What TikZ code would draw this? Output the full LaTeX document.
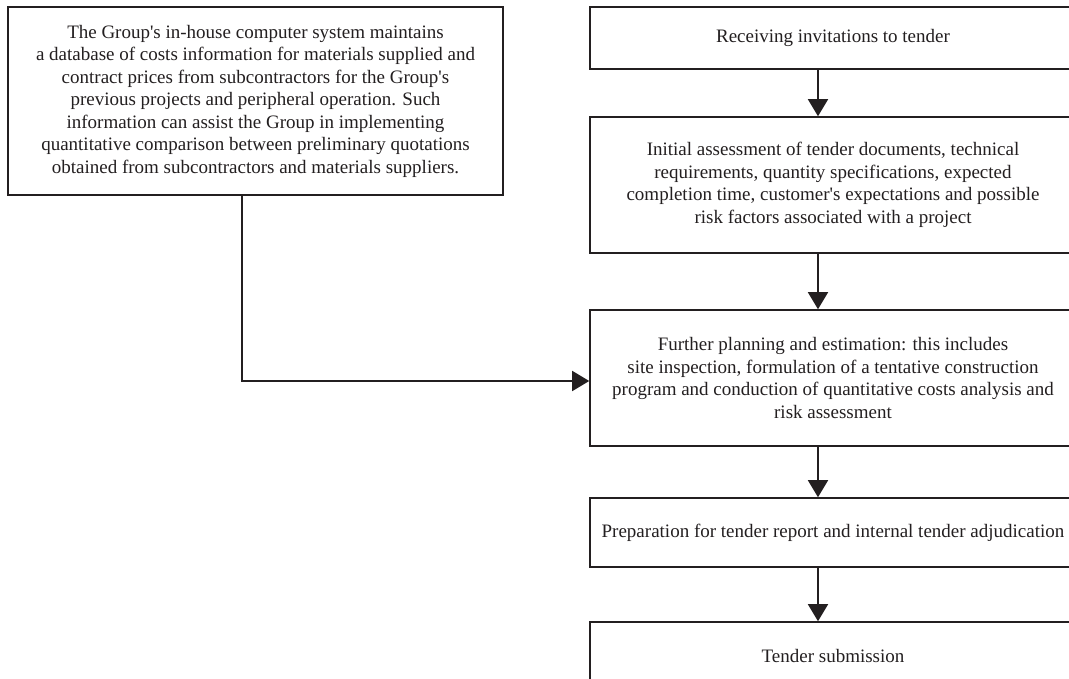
\documentclass[tikz,border=0pt]{standalone}
\usepackage{fontspec}
\setmainfont{Liberation Serif}[Ligatures=TeXOff]
\usetikzlibrary{arrows.meta}
\definecolor{ink}{RGB}{35,31,32}
\begin{document}
\begin{tikzpicture}[x=1pt,y=1pt,
  box/.style={draw=ink, line width=1.6pt, rectangle, inner sep=0pt, align=center,
    font=\fontsize{19}{22.5}\selectfont, text=ink},
  arr/.style={draw=ink, line width=1.6pt, -{Triangle[length=17pt,width=20pt]}}]
\useasboundingbox (0,0) rectangle (1069,-678);
\clip (0,0) rectangle (1069,-678);
\fill[white] (0,0) rectangle (1069,-678);
\node[box, minimum width=495pt, minimum height=188pt] (L) at (255.5,-101) {The Group's in-house computer system maintains\\
a database of costs information for materials supplied and\\
contract prices from subcontractors for the Group's\\
previous projects and peripheral operation. Such\\
information can assist the Group in implementing\\
quantitative comparison between preliminary quotations\\
obtained from subcontractors and materials suppliers.};
\node[box, minimum width=486pt, minimum height=62pt] (R1) at (833,-38) {Receiving invitations to tender};
\node[box, minimum width=486pt, minimum height=136pt] (R2) at (833,-185) {Initial assessment of tender documents, technical\\
requirements, quantity specifications, expected\\
completion time, customer's expectations and possible\\
risk factors associated with a project};
\node[box, minimum width=486pt, minimum height=136pt] (R3) at (833,-378) {Further planning and estimation: this includes\\
site inspection, formulation of a tentative construction\\
program and conduction of quantitative costs analysis and\\
risk assessment};
\node[box, minimum width=486pt, minimum height=69pt] (R4) at (833,-532.5) {Preparation for tender report and internal tender adjudication};
\node[box, minimum width=486pt, minimum height=68pt] (R5) at (833,-656) {Tender submission};
\coordinate (ax) at (818,0);
\coordinate (cx) at (242,-381);
\draw[arr] (R1.south -| ax) -- (R2.north -| ax);
\draw[arr] (R2.south -| ax) -- (R3.north -| ax);
\draw[arr] (R3.south -| ax) -- (R4.north -| ax);
\draw[arr] (R4.south -| ax) -- (R5.north -| ax);
\draw[arr] (L.south -| cx) |- (R3.west |- cx);
\end{tikzpicture}
\end{document}
